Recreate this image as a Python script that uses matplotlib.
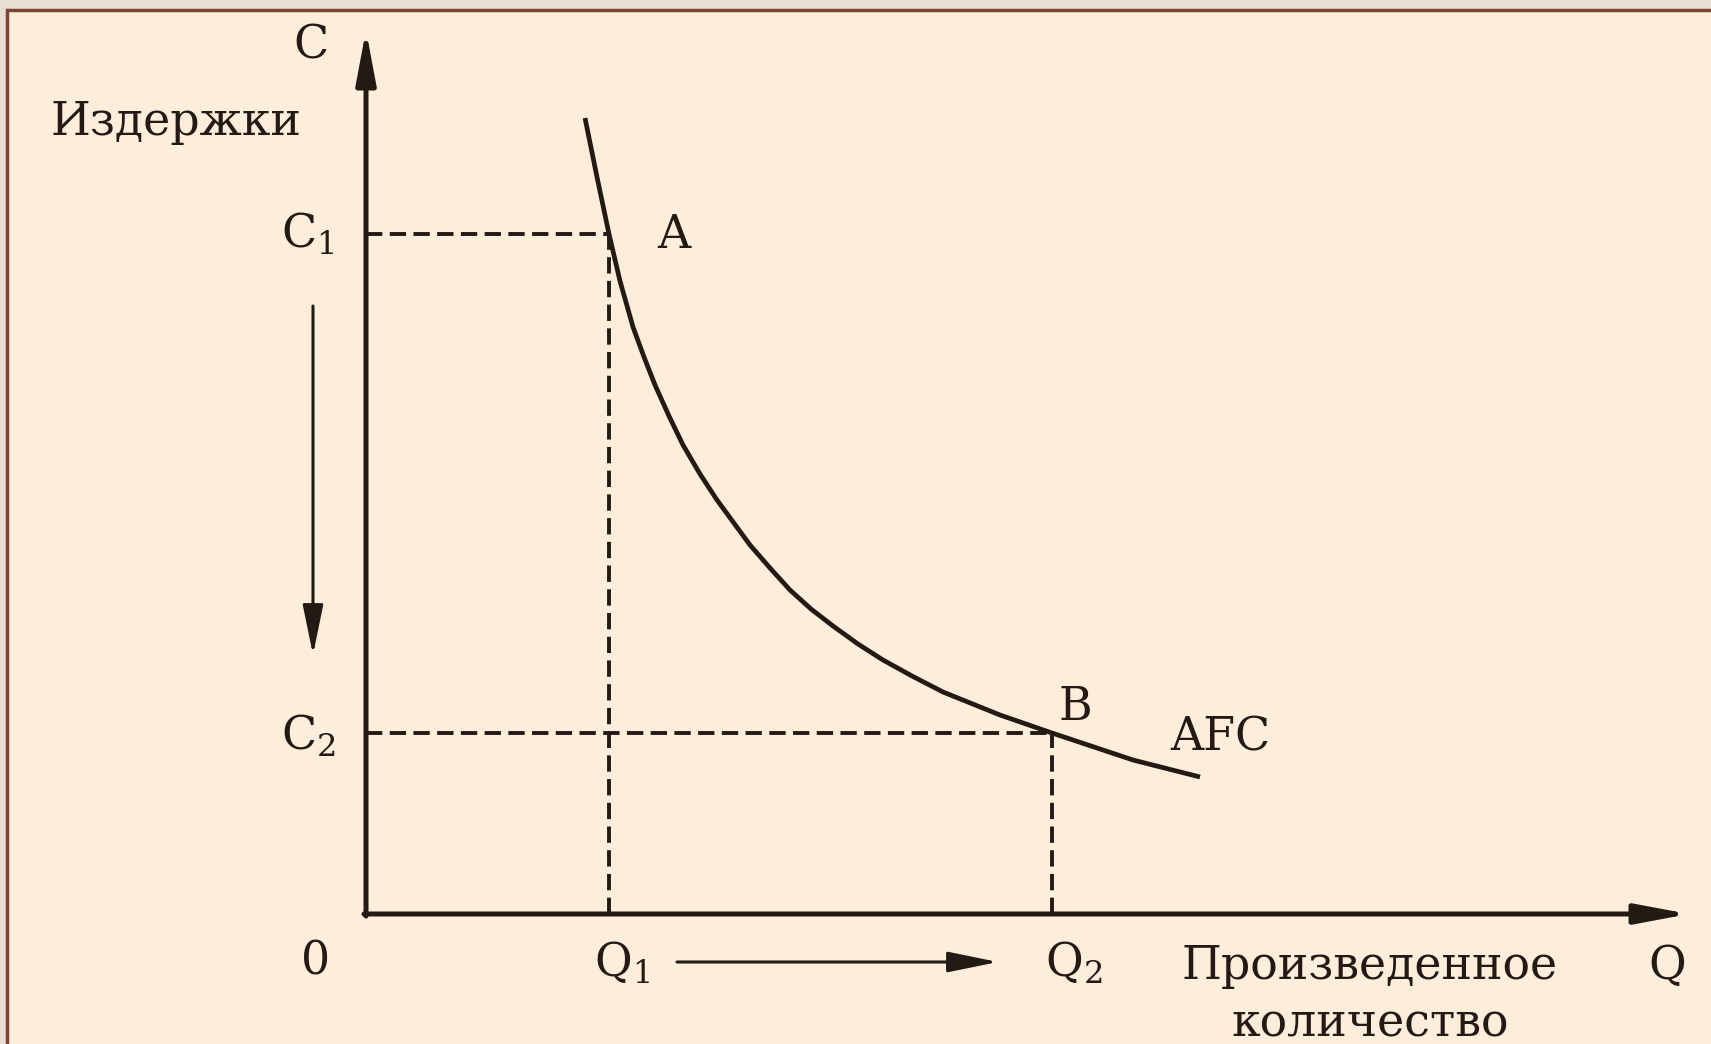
import matplotlib

matplotlib.use("Agg")
import matplotlib.pyplot as plt
from matplotlib.patches import Rectangle

# AFC curve (Q, C in chart units)
afc_q = [2.19, 2.31, 2.43, 2.54, 2.67, 2.78, 2.89, 3.03, 3.17, 3.34, 3.51, 3.84, 4.04, 4.24,
         4.45, 4.67, 4.92, 5.17, 5.46, 5.77, 6.34, 6.86, 7.67, 8.34]
afc_c = [7.96, 7.37, 6.80, 6.33, 5.87, 5.57, 5.29, 4.98, 4.69, 4.40, 4.14, 3.69, 3.46, 3.24,
         3.05, 2.88, 2.70, 2.54, 2.38, 2.22, 1.99, 1.81, 1.54, 1.37]

q1, c1 = 2.43, 6.80   # point A
q2, c2 = 6.86, 1.81   # point B
y_top = 8.84
x_right = 13.23

BG = "#FDEEDB"
OUTER = "#E8DED2"
FRAME = "#7A4535"
INK = "#231a14"
FONT = "DejaVu Serif"

plt.rcParams["font.family"] = FONT
plt.rcParams["mathtext.fontset"] = "dejavuserif"

fig = plt.figure(figsize=(17.11, 10.44), dpi=100, facecolor=OUTER)
ax = fig.add_axes([0, 0, 1, 1])
ax.set_xlim(-3.66, 13.45)
ax.set_ylim(-1.30, 9.14)
ax.axis("off")

# page frame
ax.add_patch(Rectangle((-3.59, -2.0), 20, 11.04, facecolor=BG, edgecolor=FRAME, lw=2.5, zorder=0))

# axes with arrows
arrow = dict(arrowstyle="-|>,head_length=1.6,head_width=0.3", color=INK, lw=3.6, mutation_scale=20,
             shrinkA=0, shrinkB=0)
ax.annotate("", xy=(0, y_top), xytext=(0, -0.02), arrowprops=arrow)
ax.annotate("", xy=(x_right, 0), xytext=(-0.02, 0), arrowprops=arrow)

# dashed guides
dash = dict(color=INK, lw=2.8, dashes=(4.2, 1.9))
ax.plot([0, q1], [c1, c1], **dash)
ax.plot([q1, q1], [0, c1], **dash)
ax.plot([0, q2], [c2, c2], **dash)
ax.plot([q2, q2], [0, c2], **dash)

# AFC curve
ax.plot(afc_q, afc_c, color=INK, lw=3.4, solid_joinstyle="round", solid_capstyle="butt")

# movement arrows
thin = dict(arrowstyle="-|>,head_length=2.2,head_width=0.45", color=INK, lw=2.2, mutation_scale=14,
            shrinkA=0, shrinkB=0)
ax.annotate("", xy=(-0.53, 2.59), xytext=(-0.53, 6.08), arrowprops=thin)
ax.annotate("", xy=(6.32, -0.48), xytext=(3.11, -0.48), arrowprops=thin)

fs = 33
txt = dict(color=INK, fontsize=fs, ha="center", va="center")
ax.text(-0.55, 8.68, "C", **txt)
ax.text(-1.90, 7.92, "Издержки", **txt)
ax.text(-0.58, 6.79, "C$_1$", **txt)
ax.text(-0.58, 1.77, "C$_2$", **txt)
ax.text(3.08, 6.79, "A", **txt)
ax.text(7.09, 2.07, "B", **txt)
ax.text(8.54, 1.76, "AFC", **txt)
ax.text(-0.50, -0.48, "0", **txt)
ax.text(2.56, -0.50, "Q$_1$", **txt)
ax.text(7.08, -0.50, "Q$_2$", **txt)
ax.text(10.04, -0.52, "Произведенное", **txt)
ax.text(10.04, -1.10, "количество", **txt)
ax.text(13.01, -0.52, "Q", **txt)

fig.savefig("out.png", dpi=100, facecolor=OUTER)
